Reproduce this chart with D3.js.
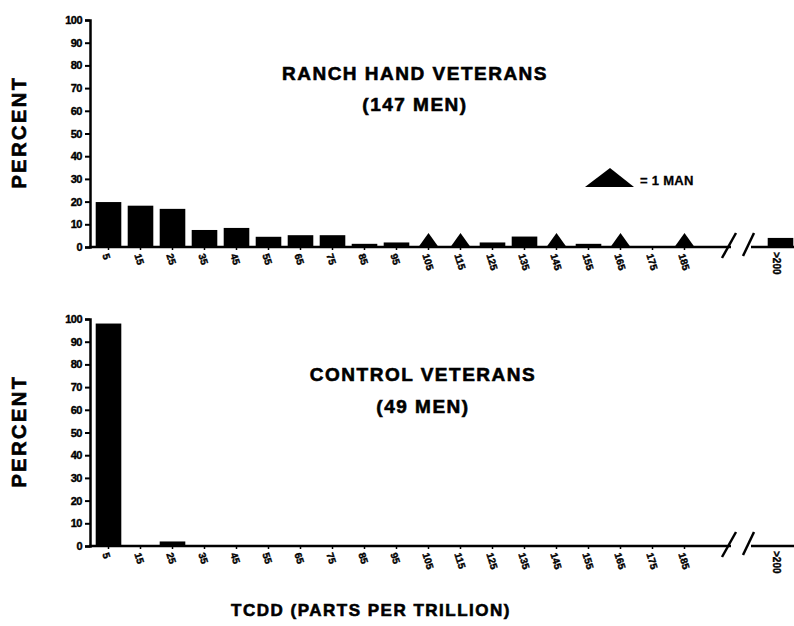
<!DOCTYPE html>
<html>
<head>
<meta charset="utf-8">
<script src="https://cdn.jsdelivr.net/npm/d3@7"></script>
<style>
  html, body { margin: 0; padding: 0; background: #fff; }
  svg { display: block; }
  text { font-family: "Liberation Sans", Arial, sans-serif; font-weight: bold; fill: #000; }
</style>
</head>
<body>
<svg id="chart" width="794" height="626"></svg>
<script>
// ---- data ----
const categories = ["5","15","25","35","45","55","65","75","85","95","105","115","125","135","145","155","165","175","185",">200"];
const ranchPercent = [19.8, 18.2, 16.8, 7.5, 8.4, 4.5, 5.2, 5.2, 1.4, 2.0, 0.7, 0.7, 2.0, 4.6, 0.7, 1.4, 0.7, 0, 0.7, 4.0];
const ranchSingleMan = ["105","115","145","165","185"];   // bins drawn with the "1 man" triangle
const controlPercent = [98.0, 0, 2.0, 0, 0, 0.3, 0, 0, 0, 0, 0, 0, 0, 0, 0, 0, 0, 0, 0, 0];
const yTicks = [0,10,20,30,40,50,60,70,80,90,100];
const panels = [
  { title: ["RANCH HAND VETERANS", "(147 MEN)"], values: ranchPercent, singles: ranchSingleMan },
  { title: ["CONTROL VETERANS", "(49 MEN)"], values: controlPercent, singles: [] }
];

const svg = d3.select("#chart");
const gapKeys = ["gap1", "gap2"];
const domain = categories.slice(0, 19).concat(gapKeys, categories.slice(19));
const x = d3.scaleBand().domain(domain).range([95.7, 793.3]).paddingInner(0.2).paddingOuter(0);

const layout = [
  { top: 20, base: 247, titleX: 415, titleY: [80, 111], labelY: 132 },
  { top: 319, base: 546, titleX: 423, titleY: [381, 413], labelY: 431 }
];

panels.forEach((p, pi) => {
  const L = layout[pi];
  const y = d3.scaleLinear().domain([0, 100]).range([L.base, L.top]);
  const g = svg.append("g");

  // bars
  const data = categories.map((c, i) => ({ c, v: p.values[i], single: p.singles.includes(c) }));
  g.selectAll("rect.bar").data(data.filter(d => d.v > 0 && !d.single)).join("rect")
    .attr("class", "bar")
    .attr("x", d => x(d.c))
    .attr("width", x.bandwidth())
    .attr("y", d => y(d.v))
    .attr("height", d => L.base - y(d.v))
    .attr("fill", "#000");

  // "1 man" triangles
  const tri = (cx, by, w, h) => `M${cx - w / 2},${by} L${cx},${by - h} L${cx + w / 2},${by} Z`;
  g.selectAll("path.single").data(data.filter(d => d.single)).join("path")
    .attr("class", "single")
    .attr("d", d => tri(x(d.c) + x.bandwidth() / 2, L.base, 20, 14))
    .attr("fill", "#000");

  // y axis
  const yAxis = d3.axisLeft(y).tickValues(yTicks).tickSize(5).tickPadding(3);
  const ya = g.append("g").attr("transform", "translate(90,0)").call(yAxis);
  ya.select(".domain").attr("stroke", "#000").attr("stroke-width", 2.5);
  ya.selectAll(".tick line").attr("stroke", "#000").attr("stroke-width", 2);
  ya.selectAll(".tick text").attr("font-size", 11).attr("font-weight", "bold")
    .attr("font-family", "Liberation Sans, Arial, sans-serif").attr("letter-spacing", "-0.5px")
    .attr("stroke", "#000").attr("stroke-width", 0.4);

  // x axis line with break
  const breakX1 = 735, breakX2 = 749;
  g.append("line").attr("x1", 89).attr("x2", breakX1 - 4).attr("y1", L.base).attr("y2", L.base)
    .attr("stroke", "#000").attr("stroke-width", 2.5);
  g.append("line").attr("x1", breakX2 + 2).attr("x2", 794).attr("y1", L.base).attr("y2", L.base)
    .attr("stroke", "#000").attr("stroke-width", 2.5);
  [[722, 258, 736, 233], [743, 256, 754, 233]].forEach(s => {
    g.append("line").attr("x1", s[0]).attr("y1", s[1] - 247 + L.base)
      .attr("x2", s[2]).attr("y2", s[3] - 247 + L.base)
      .attr("stroke", "#000").attr("stroke-width", 2.5);
  });
  // small x ticks
  g.selectAll("line.xt").data(categories.slice(0, 19)).join("line")
    .attr("class", "xt")
    .attr("x1", d => x(d) + x.bandwidth() / 2).attr("x2", d => x(d) + x.bandwidth() / 2)
    .attr("y1", L.base).attr("y2", L.base + 3)
    .attr("stroke", "#000").attr("stroke-width", 1.5);

  // x tick labels
  g.selectAll("text.xl").data(categories).join("text")
    .attr("class", "xl")
    .attr("font-size", 10)
    .attr("stroke", "#000").attr("stroke-width", 0.4)
    .attr("transform", d => {
      const cx = x(d) + x.bandwidth() / 2;
      return d === ">200" ? `translate(${cx - 4},${L.base + 5}) rotate(90)` : `translate(${cx - 3},${L.base + 7}) rotate(72)`;
    })
    .attr("text-anchor", "start")
    .attr("dy", "0.35em")
    .text(d => d);

  // title
  p.title.forEach((t, ti) => {
    svg.append("text").attr("x", L.titleX).attr("y", L.titleY[ti])
      .attr("text-anchor", "middle").attr("font-size", 19).attr("letter-spacing", "1.5px")
      .attr("stroke", "#000").attr("stroke-width", 0.6)
      .text(t);
  });

  // y label
  svg.append("text").attr("transform", `translate(26,${L.labelY}) rotate(-90)`)
    .attr("text-anchor", "middle").attr("font-size", 20).attr("letter-spacing", "2.5px")
    .attr("stroke", "#000").attr("stroke-width", 0.6)
    .text("PERCENT");
});

// legend
svg.append("path").attr("d", "M585,187 L610,168 L634,187 Z").attr("fill", "#000");
svg.append("text").attr("x", 640).attr("y", 185).attr("font-size", 13).attr("letter-spacing", "0.3px")
  .attr("stroke", "#000").attr("stroke-width", 0.3).text("= 1 MAN");

// x title
svg.append("text").attr("x", 371).attr("y", 616).attr("text-anchor", "middle")
  .attr("font-size", 17).attr("letter-spacing", "1.5px")
  .attr("stroke", "#000").attr("stroke-width", 0.6).text("TCDD (PARTS PER TRILLION)");
</script>
</body>
</html>
